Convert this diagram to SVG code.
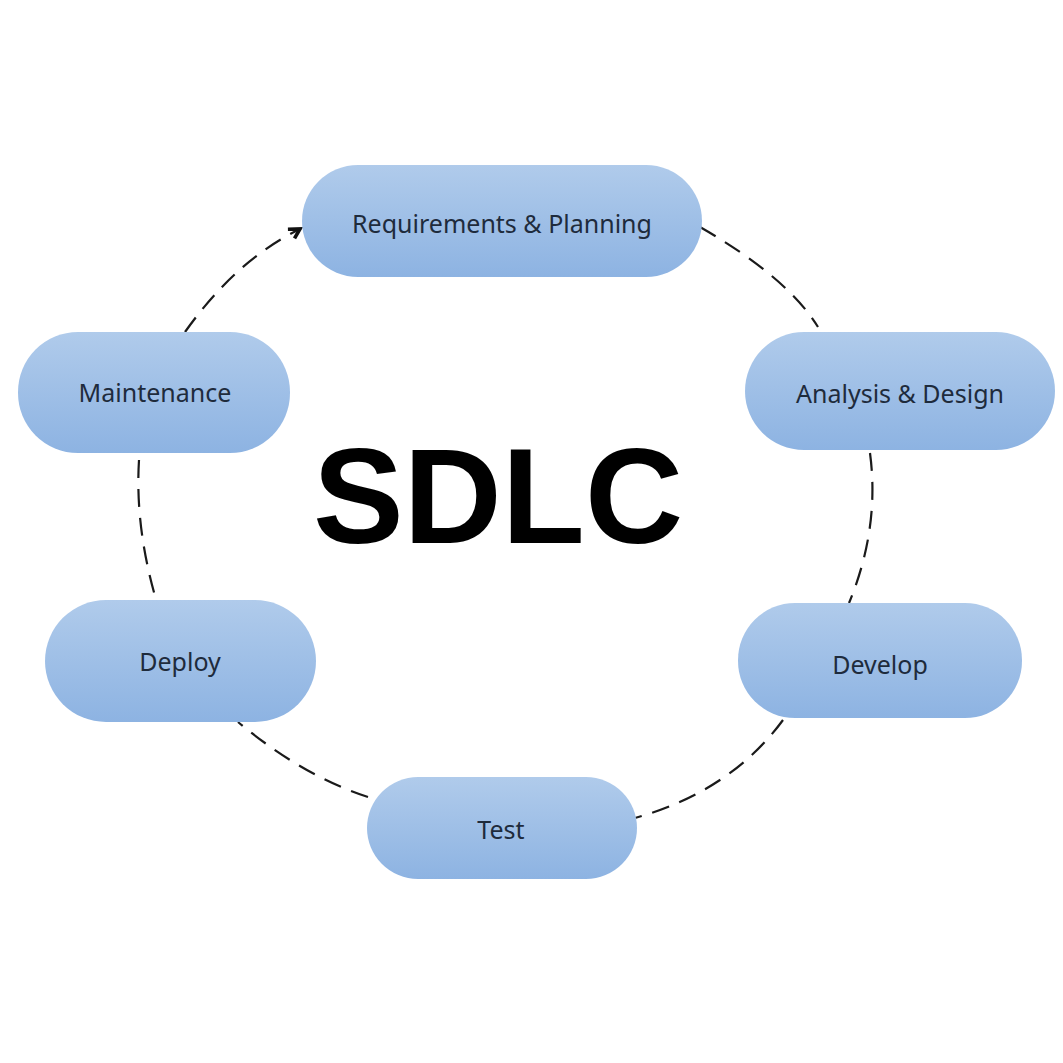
<svg xmlns="http://www.w3.org/2000/svg" width="1063" height="1063" viewBox="0 0 1063 1063">
<defs>
<linearGradient id="g" x1="0" y1="0" x2="0" y2="1">
<stop offset="0" stop-color="#b0cbeb"/>
<stop offset="1" stop-color="#8db3e2"/>
</linearGradient>
<marker id="arr" viewBox="0 0 16 16" refX="13" refY="8" markerWidth="16" markerHeight="16" markerUnits="userSpaceOnUse" orient="auto">
<path d="M2,3 L13,8 L4,14" fill="none" stroke="#111" stroke-width="3.6" stroke-linejoin="miter"/>
</marker>
</defs>
<style>
.node{fill:url(#g);}
.lbl{font-family:"Noto Sans","Open Sans",sans-serif;font-size:25px;fill:#1e2b3c;text-anchor:middle;dominant-baseline:central;}
.c{fill:none;stroke:#1a1a1a;stroke-width:2.2;stroke-dasharray:18 11;}
.title{font-family:"Liberation Sans",Arial,sans-serif;font-weight:bold;font-size:136px;fill:#000;text-anchor:middle;}
</style>
<rect width="1063" height="1063" fill="#fff"/>
<g id="connectors">
<path class="c" d="M185,332 Q236,260 300,229" marker-end="url(#arr)"/>
<path class="c" d="M700,227 Q787,277 818,327"/>
<path class="c" d="M870,453 Q880,528 849,603"/>
<path class="c" d="M783,720 Q731,791 635,818"/>
<path class="c" d="M368,797 Q303,776 238,722"/>
<path class="c" d="M139,460 Q135,525 155,596"/>
</g>
<g id="n-req"><rect class="node" x="302" y="165" width="400" height="112" rx="56"/><text class="lbl" x="502" y="223">Requirements &amp; Planning</text></g>
<g id="n-analysis"><rect class="node" x="745" y="332" width="310" height="118" rx="59"/><text class="lbl" x="900" y="393">Analysis &amp; Design</text></g>
<g id="n-develop"><rect class="node" x="738" y="603" width="284" height="115" rx="57"/><text class="lbl" x="880" y="664">Develop</text></g>
<g id="n-test"><rect class="node" x="367" y="777" width="270" height="102" rx="51"/><text class="lbl" x="501" y="829">Test</text></g>
<g id="n-deploy"><rect class="node" x="45" y="600" width="271" height="122" rx="61"/><text class="lbl" x="180" y="661">Deploy</text></g>
<g id="n-maint"><rect class="node" x="18" y="332" width="272" height="121" rx="60"/><text class="lbl" x="155" y="392">Maintenance</text></g>
<g id="title"><text class="title" x="498" y="543">SDLC</text></g>
</svg>
